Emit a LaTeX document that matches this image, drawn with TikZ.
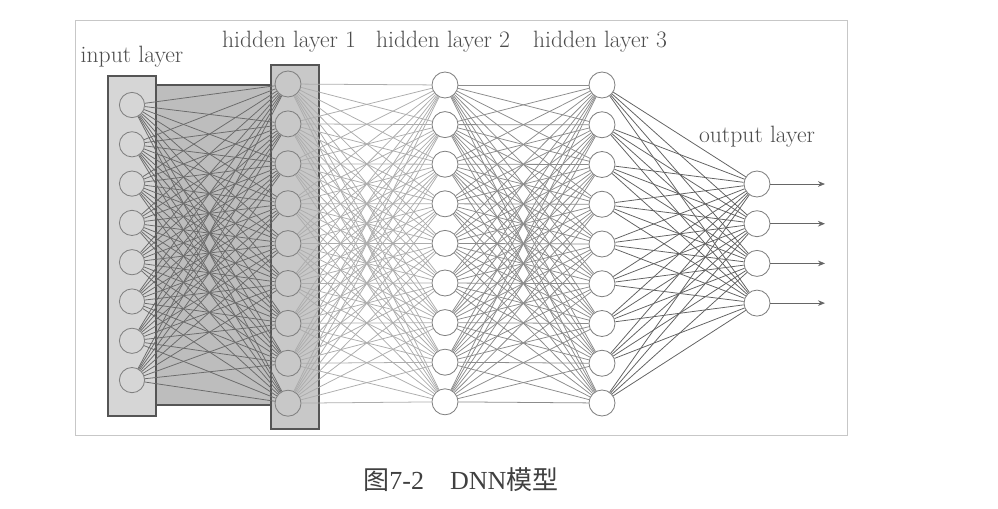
\documentclass[tikz,border=0pt]{standalone}
\usepackage{fontspec}
\usepackage{tikz}
\usetikzlibrary{arrows.meta}
\newfontfamily\capfont{Liberation Serif}
\newfontfamily\cjk{Noto Sans CJK SC}
\definecolor{boxin}{HTML}{D6D6D6}
\definecolor{boxmid}{HTML}{BDBDBD}
\definecolor{boxhid}{HTML}{C8C8C8}
\definecolor{rim}{HTML}{555555}

\begin{document}
\begin{tikzpicture}[x=0.025cm,y=-0.025cm,
		neuron/.style={circle,draw=gray,line width=0.6pt,inner sep=0pt,minimum size=0.65cm},
		box/.style={draw=rim,line width=1.1pt},
		lbl/.style={text=black!70,font=\fontsize{16.8}{20}\selectfont},
		link/.style={line width=0.55pt}]
	\useasboundingbox (0,0) rectangle (998,508);
	\draw[black!22,line width=0.7pt] (75,20) rectangle (847,435);
	% layer boxes
	\draw[box,fill=boxin] (108,76) rectangle (156,416);
	\draw[box,fill=boxmid] (156,85) rectangle (271,405);
	\draw[box,fill=boxhid] (271,65) rectangle (319,429);
	% neurons
	\foreach \i in {1,...,8}
		\node[neuron,fill=boxin,minimum size=0.63cm] (I\i) at (132,{105+39.3*(\i-1)}) {};
	\foreach \i in {1,...,9} {
		\node[neuron,fill=boxhid] (A\i) at (288,{84+39.9*(\i-1)}) {};
		\node[neuron,fill=white] (B\i) at (445,{85+39.6*(\i-1)}) {};
		\node[neuron,fill=white] (C\i) at (602,{85+39.75*(\i-1)}) {};
	}
	\foreach \i in {1,...,4} {
		\node[neuron,fill=white] (O\i) at (757,{184+39.7*(\i-1)}) {};
		\coordinate (Y\i) at (825,{184+39.7*(\i-1)});
	}
	% connections
	\foreach \i in {1,...,8}
		\foreach \j in {1,...,9}
			\draw[link,black!58] (I\i) -- (A\j);
	\foreach \i in {1,...,9}
		\foreach \j in {1,...,9} {
			\draw[link,black!32] (A\i) -- (B\j);
			\draw[link,black!45] (B\i) -- (C\j);
		}
	\foreach \i in {1,...,9}
		\foreach \j in {1,...,4}
			\draw[link,black!62] (C\i) -- (O\j);
	\foreach \i in {1,...,4}
		\draw[link,black!60,-{Stealth[length=5pt,width=4pt]}] (O\i) -- (Y\i);
	% labels
	\node[lbl] (tin) at (132,57) {input layer};
	\node[lbl] (th1) at (289,42) {hidden layer 1};
	\node[lbl] (th2) at (443,42) {hidden layer 2};
	\node[lbl] (th3) at (600,42) {hidden layer 3};
	\node[lbl] (tout) at (757,137) {output layer};
	\node[text=black!75,font=\capfont\fontsize{18.5}{22}\selectfont] (cap) at (461,480)
		{{\cjk 图}7-2\quad DNN{\cjk 模型}};
\end{tikzpicture}
\end{document}
